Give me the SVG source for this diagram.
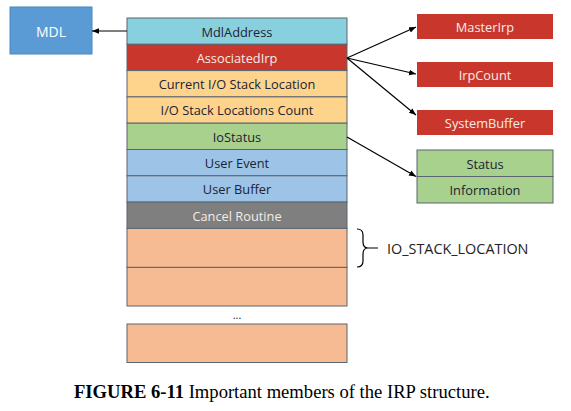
<svg xmlns="http://www.w3.org/2000/svg" width="571" height="411" viewBox="0 0 571 411">
<defs>
<marker id="ah" viewBox="0 0 10 10" refX="10" refY="5" markerWidth="7" markerHeight="7" orient="auto" markerUnits="userSpaceOnUse">
<path d="M0,1 L10,5 L0,9 z" fill="#000"/>
</marker>
<style>
.t{font-family:"Open Sans","Liberation Sans",sans-serif;font-size:12.8px;fill:#1c2333;text-anchor:middle;dominant-baseline:central}
.w{fill:#f3ece8}
.b{stroke:#5a6470;stroke-width:1}
.c{stroke:#000;stroke-width:1.2;fill:none}
</style>
</defs>
<rect width="571" height="411" fill="#fff"/>
<g id="mdl"><rect x="10" y="7" width="82" height="47" fill="#5b9bd5" stroke="#4a86bd"/><text class="t" x="51" y="31" style="fill:#fff;font-size:14px">MDL</text></g>
<g id="irp">
<g id="mdladdress"><rect class="b" x="127" y="18" width="220" height="26.3" fill="#89d0de"/><text class="t" x="237" y="31.5">MdlAddress</text></g>
<g id="associatedirp"><rect class="b" x="127" y="44.3" width="220" height="26.3" fill="#c9372c"/><text class="t w" x="237" y="57.5">AssociatedIrp</text></g>
<g id="curloc"><rect class="b" x="127" y="70.6" width="220" height="26.3" fill="#fed48c"/><text class="t" x="237" y="84">Current I/O Stack Location</text></g>
<g id="loccount"><rect class="b" x="127" y="96.9" width="220" height="26.3" fill="#fed48c"/><text class="t" x="237" y="110">I/O Stack Locations Count</text></g>
<g id="iostatus"><rect class="b" x="127" y="123.2" width="220" height="26.3" fill="#a9d18e"/><text class="t" x="237" y="136.5">IoStatus</text></g>
<g id="userevent"><rect class="b" x="127" y="149.5" width="220" height="26.3" fill="#9dc3e6"/><text class="t" x="237" y="163">User Event</text></g>
<g id="userbuffer"><rect class="b" x="127" y="175.8" width="220" height="26.3" fill="#9dc3e6"/><text class="t" x="237" y="189">User Buffer</text></g>
<g id="cancel"><rect class="b" x="127" y="202.1" width="220" height="26.3" fill="#7f7f7f"/><text class="t w" x="237" y="215.5">Cancel Routine</text></g>
<g id="stack1"><rect class="b" x="127" y="228.4" width="220" height="39" fill="#f6bb93"/></g>
<g id="stack2"><rect class="b" x="127" y="267.4" width="220" height="38.6" fill="#f6bb93"/></g>
<text class="t" x="237" y="314" style="font-size:11px">...</text>
<g id="stackn"><rect class="b" x="127" y="324" width="220" height="38.5" fill="#f6bb93"/></g>
</g>
<g id="masterirp"><rect x="417" y="14" width="136" height="25" fill="#c9372c"/><text class="t w" x="485" y="27">MasterIrp</text></g>
<g id="irpcount"><rect x="417" y="62" width="136" height="25" fill="#c9372c"/><text class="t w" x="485" y="75">IrpCount</text></g>
<g id="systembuffer"><rect x="417" y="110" width="136" height="25" fill="#c9372c"/><text class="t w" x="485" y="123">SystemBuffer</text></g>
<g id="status"><rect class="b" x="417" y="150" width="136" height="26.5" fill="#a9d18e" stroke="#6f8f5a"/><text class="t" x="485" y="163.5">Status</text></g>
<g id="information"><rect class="b" x="417" y="176.5" width="136" height="26.5" fill="#a9d18e" stroke="#6f8f5a"/><text class="t" x="485" y="190">Information</text></g>
<g id="brace"><path class="c" d="M357,229 Q363,229 363,235 L363,242 Q363,248 368,248 Q363,248 363,254 L363,261 Q363,267 357,267 M368,248 L378,248"/><text x="387" y="248" style="font-family:'Open Sans','Liberation Sans',sans-serif;font-size:14.4px;fill:#222;dominant-baseline:central">IO_STACK_LOCATION</text></g>
<g id="connectors">
<line class="c" x1="127" y1="31" x2="92" y2="31" marker-end="url(#ah)"/>
<line class="c" x1="347" y1="58" x2="416" y2="27" marker-end="url(#ah)"/>
<line class="c" x1="347" y1="58" x2="416" y2="74" marker-end="url(#ah)"/>
<line class="c" x1="347" y1="58" x2="416" y2="115" marker-end="url(#ah)"/>
<line class="c" x1="347" y1="137" x2="416" y2="176.5" marker-end="url(#ah)"/>
</g>
<text x="74" y="398" style="font-family:'Liberation Serif',serif;font-size:18.6px;fill:#000"><tspan font-weight="bold">FIGURE 6-11</tspan> Important members of the IRP structure.</text>
</svg>
